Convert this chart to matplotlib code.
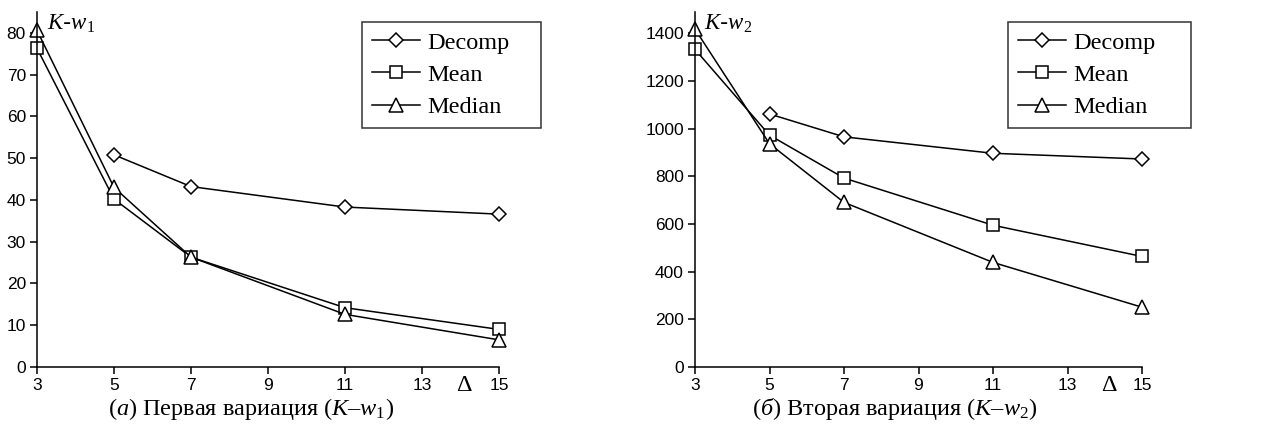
import matplotlib
matplotlib.use("Agg")
import matplotlib.pyplot as plt

plt.rcParams['mathtext.fontset'] = 'custom'
plt.rcParams['mathtext.rm'] = 'Liberation Serif'
plt.rcParams['mathtext.it'] = 'Liberation Serif:italic'

x_all = [3, 5, 7, 11, 15]
x_decomp = [5, 7, 11, 15]

decomp1 = [50.8, 43.2, 38.3, 36.6]
mean1 = [76.3, 40.2, 26.3, 14.2, 9.0]
median1 = [80.6, 43.0, 26.3, 12.6, 6.5]

decomp2 = [1062, 966, 897, 873]
mean2 = [1333, 973, 793, 595, 464]
median2 = [1418, 937, 691, 439, 251]

xticks = [3, 5, 7, 9, 11, 13, 15]
labels = ["Decomp", "Mean", "Median"]

W, H = 1268, 441
fig = plt.figure(figsize=(W/100, H/100), dpi=100)
ax1 = fig.add_axes([37/W, 1-367/H, 462/W, 355/H])
ax2 = fig.add_axes([695/W, 1-367/H, 447/W, 355/H])

def style(ax, ylim, yticks):
    ax.set_xlim(3, 15)
    ax.set_ylim(*ylim)
    ax.set_xticks(xticks)
    ax.set_yticks(yticks)
    for s in ['top', 'right']:
        ax.spines[s].set_visible(False)
    for s in ['left', 'bottom']:
        ax.spines[s].set_linewidth(1.1)
    ax.tick_params(direction='out', length=5, width=1.1, labelsize=12.5, pad=3)
    for lab in ax.get_xticklabels() + ax.get_yticklabels():
        lab.set_fontfamily('Liberation Sans')

def draw(ax, d, m, md, anchor):
    kw = dict(color='black', lw=1.1, mfc='white', mec='black', mew=1.1, clip_on=False)
    ax.plot(x_decomp, d, marker='D', ms=7.5, label=labels[0], **kw)
    ax.plot(x_all, m, marker='s', ms=8.5, label=labels[1], **kw)
    ax.plot(x_all, md, marker='^', ms=9.5, label=labels[2], **kw)
    leg = ax.legend(loc='upper left', frameon=True, fancybox=False, mode='expand',
                    bbox_to_anchor=anchor, bbox_transform=fig.transFigure,
                    prop={'family': 'Liberation Serif', 'size': 17.5},
                    handlelength=2.0, handletextpad=0.3, borderpad=0.4,
                    labelspacing=0.42, edgecolor='black', borderaxespad=0)
    leg.get_frame().set_linewidth(1.1)
    return leg

style(ax1, (0, 85), range(0, 81, 10))
style(ax2, (0, 1490), range(0, 1401, 200))
draw(ax1, decomp1, mean1, median1, (362/W, 1-128/H, 179/W, 106/H))
draw(ax2, decomp2, mean2, median2, (1008/W, 1-128/H, 183/W, 106/H))

ax1.text(3.25, 82.3, r"$K$-$w_{\mathrm{1}}$", fontsize=16.5, va='center', ha='left')
ax2.text(3.25, 1443, r"$K$-$w_{\mathrm{2}}$", fontsize=16.5, va='center', ha='left')

for ax in (ax1, ax2):
    ax.text(14.1, -0.022, "Δ", transform=ax.get_xaxis_transform(), fontsize=17.5,
            family='Liberation Serif', ha='center', va='top')

fig.text(251/W, 1-409/H, r"$($$\mathit{а}$$)$ Первая вариация ($K$–$w_1$)",
         fontsize=17.5, family='Liberation Serif', ha='center', va='center')
fig.text(895/W, 1-409/H, r"$($$\mathit{б}$$)$ Вторая вариация ($K$–$w_2$)",
         fontsize=17.5, family='Liberation Serif', ha='center', va='center')

fig.savefig("out.png", dpi=100)
